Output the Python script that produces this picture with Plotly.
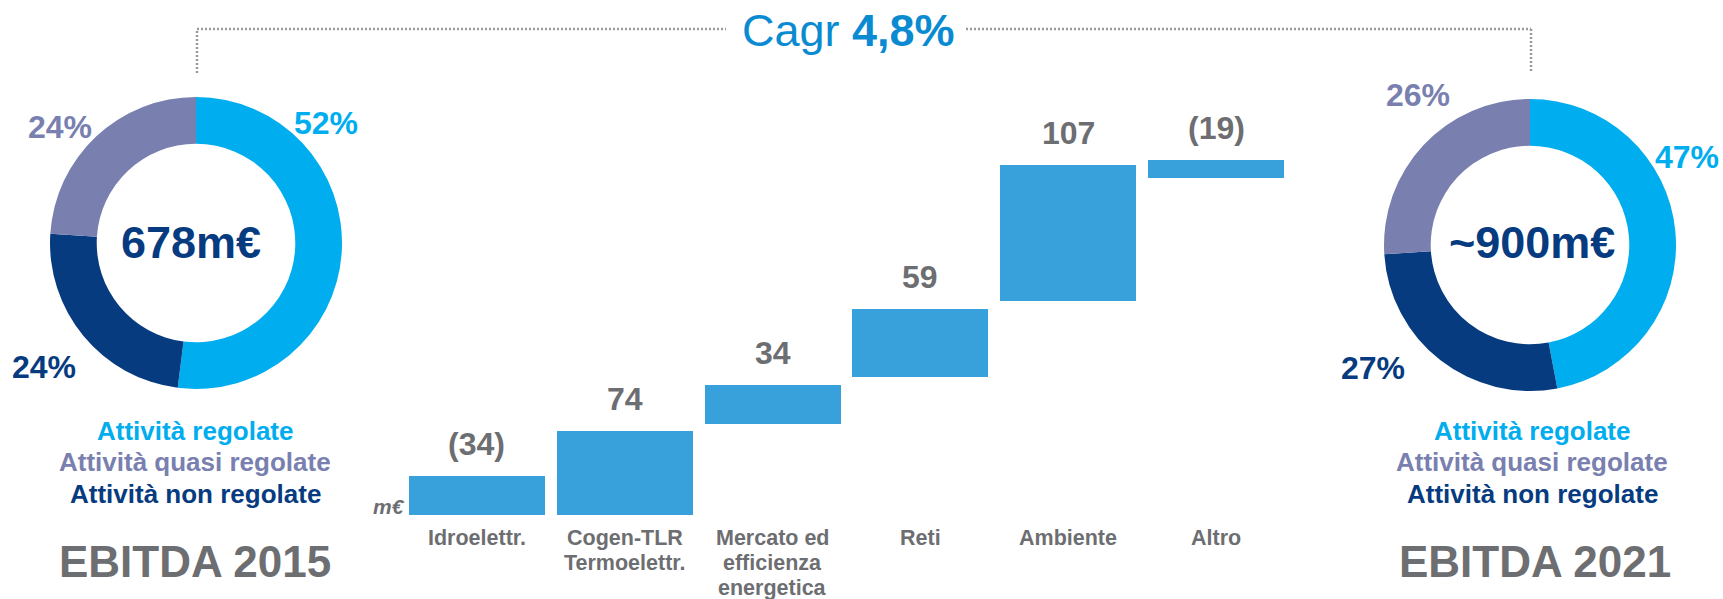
import plotly.graph_objects as go

W, H = 1723, 599

# donut data (slice order, clockwise from 12 o'clock)
segments = ["Attività regolate", "Attività non regolate", "Attività quasi regolate"]
share_2015 = [52, 24, 24]
share_2021 = [47, 27, 26]
total_2015 = "678m€"
total_2021 = "~900m€"

# bridge data
categories = ["Idroelettr.", "Cogen-TLR<br>Termoelettr.", "Mercato ed<br>efficienza<br>energetica",
              "Reti", "Ambiente", "Altro"]
deltas = [-34, 74, 34, 59, 107, -19]
# floating bar extents as drawn on the slide (m€ scale)
step_low = [0, 0, 80, 121, 188, 296]
step_high = [34, 74, 114, 181, 307, 311]
cagr = "4,8%"

LIGHT = "#00ADEE"
QUASI = "#7980AF"
NAVY = "#073B7F"
BAR = "#38A1DB"
GREY = "#6D6E71"
FONT = "Liberation Sans, Arial, sans-serif"
seg_colors = [LIGHT, NAVY, QUASI]


def px(x):
    return x / W


def py(y):
    return 1 - y / H


fig = go.Figure()

# donuts
fig.add_trace(go.Pie(
    values=share_2015, labels=segments, hole=0.68, sort=False,
    direction="clockwise", rotation=0, textinfo="none", showlegend=False,
    marker=dict(colors=seg_colors, line=dict(width=0)),
    domain=dict(x=[px(50), px(342)], y=[py(389), py(97)]),
))
fig.add_trace(go.Pie(
    values=share_2021, labels=segments, hole=0.68, sort=False,
    direction="clockwise", rotation=0, textinfo="none", showlegend=False,
    marker=dict(colors=seg_colors, line=dict(width=0)),
    domain=dict(x=[px(1384), px(1676)], y=[py(391), py(99)]),
))

# floating bars
fig.add_trace(go.Bar(
    x=categories,
    y=[h - l for h, l in zip(step_high, step_low)],
    base=step_low,
    width=0.92,
    marker=dict(color=BAR, line=dict(width=0)),
    showlegend=False,
))

ann = []


def txt(x, y, text, size, color, bold=True, **kw):
    ann.append(dict(
        x=px(x), y=py(y), xref="paper", yref="paper", text=text, showarrow=False,
        font=dict(family=FONT, size=size, color=color, weight="bold" if bold else "normal"),
        xanchor=kw.get("xanchor", "center"), yanchor=kw.get("yanchor", "middle"),
    ))


# value labels above bars
for c, d, top in zip(categories, deltas, step_high):
    label = f"({abs(d)})" if d < 0 else str(d)
    ann.append(dict(
        x=c, y=top, xref="x", yref="y", text=label, showarrow=False, yshift=32,
        font=dict(family=FONT, size=32, color=GREY, weight="bold"),
    ))

# category labels, one annotation per line
for c in categories:
    for i, line in enumerate(c.split("<br>")):
        ann.append(dict(
            x=c, y=py(538 + 25 * i), xref="x", yref="paper", text=line, showarrow=False,
            yanchor="middle", font=dict(family=FONT, size=21.5, color=GREY, weight="bold"),
        ))

txt(389, 507, "<i>m€</i>", 21, GREY)

# donut 2015 labels
txt(326, 123, f"{share_2015[0]}%", 32, LIGHT)
txt(60, 127, f"{share_2015[2]}%", 32, QUASI)
txt(44, 367, f"{share_2015[1]}%", 32, NAVY)
txt(191, 243, total_2015, 45, NAVY)

# donut 2021 labels
txt(1721, 157, f"{share_2021[0]}%", 32, LIGHT, xanchor="right")
txt(1418, 95, f"{share_2021[2]}%", 32, QUASI)
txt(1373, 368, f"{share_2021[1]}%", 32, NAVY)
txt(1532, 243, total_2021, 45, NAVY)

# legends under the donuts
for cx in (195, 1532):
    txt(cx, 431, segments[0], 26, LIGHT)
    txt(cx, 462, segments[2], 26, QUASI)
    txt(cx, 494, segments[1], 26, NAVY)

txt(195, 561, "EBITDA 2015", 44, GREY)
txt(1535, 561, "EBITDA 2021", 44, GREY)

# cagr bracket
txt(848, 30, f"Cagr <b>{cagr}</b>", 45, "#0A8BD1", bold=False)

dot = dict(color="#9A9A9A", width=2.5, dash="2px,2px")
shapes = [
    dict(type="line", xref="paper", yref="paper", x0=px(197), x1=px(197), y0=py(73), y1=py(29), line=dot),
    dict(type="line", xref="paper", yref="paper", x0=px(197), x1=px(726), y0=py(29), y1=py(29), line=dot),
    dict(type="line", xref="paper", yref="paper", x0=px(966), x1=px(1531), y0=py(29), y1=py(29), line=dot),
    dict(type="line", xref="paper", yref="paper", x0=px(1531), x1=px(1531), y0=py(29), y1=py(73), line=dot),
]

fig.update_layout(
    width=W, height=H,
    margin=dict(l=0, r=0, t=0, b=0),
    paper_bgcolor="white", plot_bgcolor="white",
    xaxis=dict(domain=[px(403), px(1290)], range=[-0.5, 5.5], type="category", visible=False),
    yaxis=dict(domain=[py(515), py(100)], range=[0, (515 - 100) / 1.14], visible=False),
    annotations=ann,
    shapes=shapes,
    bargap=0,
)

# drop the default page margin so the figure sits at the window's corner
fig.write_html("out.html", config={"displayModeBar": False},
               post_script="document.body.style.margin='0';")
